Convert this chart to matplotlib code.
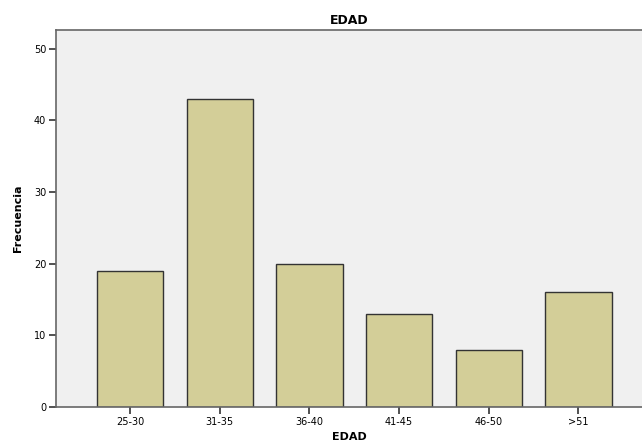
import matplotlib.pyplot as plt

categorias = ["25-30", "31-35", "36-40", "41-45", "46-50", ">51"]
frecuencias = [19, 43, 20, 13, 8, 16]
y_ticks = [0, 10, 20, 30, 40, 50]

fig = plt.figure(figsize=(6.42, 4.44), dpi=100)
ax = fig.add_axes([0.0872, 0.0833, 0.9128, 0.8491])
ax.set_facecolor("#f0f0f0")

x = range(len(categorias))
ax.bar(x, frecuencias, width=0.74, color="#d3ce98", edgecolor="#333333", linewidth=1.0)

ax.set_xlim(-0.826, 5.71)
ax.set_ylim(0, 52.6)
ax.set_xticks(list(x))
ax.set_xticklabels(categorias, fontsize=7)
ax.set_yticks(y_ticks)
ax.set_yticklabels([str(v) for v in y_ticks], fontsize=7)
ax.tick_params(direction="out", length=5, width=1.2, color="#333333", pad=2)

for side in ["top", "left", "bottom"]:
    ax.spines[side].set_color("#666666")
    ax.spines[side].set_linewidth(1.2)
ax.spines["right"].set_visible(False)

ax.set_title("EDAD", fontsize=9, fontweight="bold", pad=4)
ax.set_xlabel("EDAD", fontsize=8, fontweight="bold", labelpad=4)
ax.set_ylabel("Frecuencia", fontsize=8, fontweight="bold", labelpad=8)

fig.savefig("out.png", dpi=100)
